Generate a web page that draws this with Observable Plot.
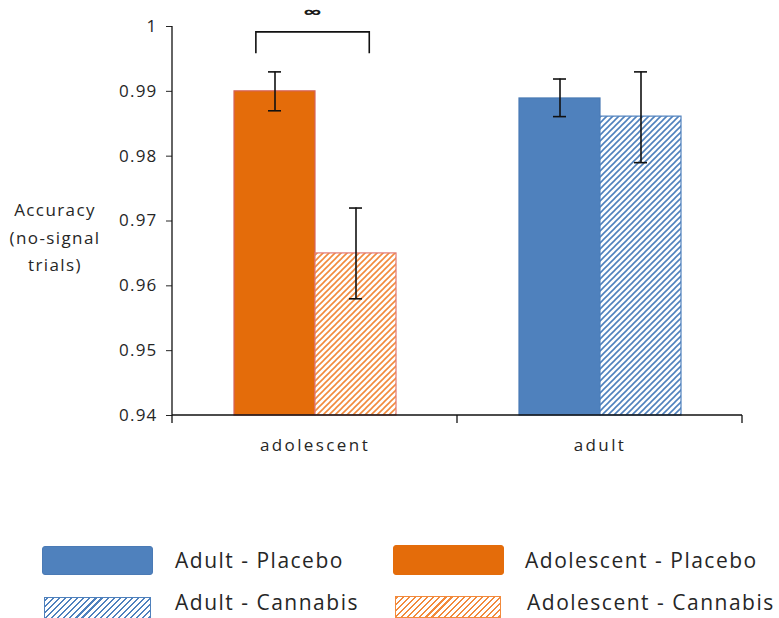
<!DOCTYPE html>
<html>
<head>
<meta charset="utf-8">
<script src="https://cdn.jsdelivr.net/npm/d3@7"></script>
<script src="https://cdn.jsdelivr.net/npm/@observablehq/plot@0.6"></script>
<style>
  body { margin: 0; background: #fff; font-family: "Open Sans", sans-serif; color: #262626; }
  #wrap { position: relative; width: 779px; height: 618px; overflow: hidden; }
  #ylabel { position: absolute; left: 0; width: 110px; top: 196px; text-align: center;
            font-size: 17px; line-height: 27.5px; letter-spacing: 1.4px; }
  .sw { position: absolute; box-sizing: border-box; border-radius: 3px; }
  .lt { position: absolute; font-size: 21px; letter-spacing: 1.5px; white-space: nowrap; }
</style>
</head>
<body>
<div id="wrap">
  <div id="chart"></div>
  <div id="ylabel">Accuracy<br>(no-signal<br>trials)</div>
  <div id="legend"></div>
</div>
<script>
// Age groups along the bottom, drug condition within each group
const groups = ["adolescent", "adult"];
const conditions = ["Placebo", "Cannabis"];

// Mean accuracy on no-signal trials, with error bar ends
const adolescentMean = [0.990, 0.965];
const adolescentLow  = [0.987, 0.958];
const adolescentHigh = [0.993, 0.972];
const adultMean = [0.9889, 0.9861];
const adultLow  = [0.9861, 0.979];
const adultHigh = [0.9919, 0.993];

const yTicks = [0.94, 0.95, 0.96, 0.97, 0.98, 0.99, 1];
const yBase = 0.94;

// Significance bracket between the adolescent bars
const bracketTop = 0.9991;
const bracketEnd = 0.9958;
const bracketLabel = "∞";

const rows = [];
groups.forEach(g => {
  const m = g === "adolescent" ? adolescentMean : adultMean;
  const lo = g === "adolescent" ? adolescentLow : adultLow;
  const hi = g === "adolescent" ? adolescentHigh : adultHigh;
  conditions.forEach((c, i) => rows.push({group: g, condition: c, mean: m[i], low: lo[i], high: hi[i]}));
});

// Fill and outline for each group/condition pair
const styles = [
  {group: "adolescent", condition: "Placebo",  fill: "#E46C0A", stroke: "#D5635C"},
  {group: "adolescent", condition: "Cannabis", fill: "url(#hatch-orange)", stroke: "#E27A72"},
  {group: "adult",      condition: "Placebo",  fill: "#4F81BD", stroke: "#4A7AB5"},
  {group: "adult",      condition: "Cannabis", fill: "url(#hatch-blue)", stroke: "#4F81BD"}
];

const chart = Plot.plot({
  width: 779,
  height: 460,
  marginLeft: 172,
  marginRight: 37,
  marginTop: 26,
  marginBottom: 45,
  style: {fontFamily: "Open Sans", fontSize: "17px", color: "#262626", background: "white", overflow: "visible"},
  facet: {data: rows, x: "group"},
  fx: {domain: groups, padding: 0, label: null, tickSize: 0, tickPadding: 23},
  x: {domain: conditions, paddingInner: 0, paddingOuter: 0.75, axis: null},
  y: {domain: [yBase, 1], ticks: yTicks, tickSize: 6, tickPadding: 9, label: null,
      tickFormat: d => d === 1 ? "1" : d.toFixed(2)},
  marks: [
    ...styles.map(s => Plot.barY(rows, {
      filter: r => r.group === s.group && r.condition === s.condition,
      x: "condition", y1: () => yBase, y2: "mean", fill: s.fill, stroke: s.stroke, strokeWidth: 1.2, inset: 0
    })),
    Plot.ruleX(rows, {x: "condition", y1: "low", y2: "high", stroke: "#111", strokeWidth: 1.6}),
    Plot.tickY(rows, {x: "condition", y: "low", stroke: "#111", strokeWidth: 1.6, insetLeft: 34, insetRight: 34}),
    Plot.tickY(rows, {x: "condition", y: "high", stroke: "#111", strokeWidth: 1.6, insetLeft: 34, insetRight: 34})
  ]
});

document.getElementById("chart").appendChild(chart);
const svgNode = chart.tagName.toLowerCase() === "svg" ? chart : chart.querySelector("svg");
const svg = d3.select(svgNode);

// Wider letter spacing on the axis labels
svg.selectAll("text").filter(function() { return groups.includes(this.textContent); })
  .style("letter-spacing", "2.4px");
svg.selectAll("text").filter(function() { return /^[01](\.\d+)?$/.test(this.textContent); })
  .style("letter-spacing", "1.2px");

// Diagonal "/" hatch patterns for the cannabis bars
const defs = svg.insert("defs", ":first-child");
[["hatch-orange", "#F28A3C"], ["hatch-blue", "#4F81BD"]].forEach(([id, color]) => {
  const p = defs.append("pattern").attr("id", id).attr("patternUnits", "userSpaceOnUse")
    .attr("width", 6).attr("height", 6);
  p.append("rect").attr("width", 6).attr("height", 6).attr("fill", "white");
  p.append("path").attr("d", "M-1,7L7,-1M-1,1L1,-1M5,7L7,5")
    .attr("stroke", color).attr("stroke-width", 1.6).attr("fill", "none");
});

// Axis frame: y axis line, baseline and group separators
const fx = chart.scale("fx");
const xs = chart.scale("x");
const y = chart.scale("y");
const left = fx.apply(groups[0]);
const right = fx.apply(groups[groups.length - 1]) + fx.bandwidth;
const y0 = y.apply(yBase);
const frame = svg.append("g").attr("stroke", "#111").attr("stroke-width", 1.3).attr("fill", "none");
frame.append("line").attr("x1", left).attr("x2", left).attr("y1", y.apply(1)).attr("y2", y0 + 8);
frame.append("line").attr("x1", left).attr("x2", right).attr("y1", y0).attr("y2", y0);
groups.slice(1).concat([null]).forEach(g => {
  const px = g === null ? right : fx.apply(g);
  frame.append("line").attr("x1", px).attr("x2", px).attr("y1", y0).attr("y2", y0 + 8);
});

// Bracket over the adolescent bars
const x0 = Array.isArray(xs.range) ? xs.range[0] : 0;
const gx = fx.apply("adolescent");
const xL = gx + xs.apply("Placebo") - x0 + xs.bandwidth * 0.27;
const xR = gx + xs.apply("Cannabis") - x0 + xs.bandwidth * 0.67;
svg.append("path")
  .attr("d", `M${xL},${y.apply(bracketEnd)}V${y.apply(bracketTop)}H${xR}V${y.apply(bracketEnd)}`)
  .attr("fill", "none").attr("stroke", "#111").attr("stroke-width", 1.6);
const cx = (xL + xR) / 2, cy = y.apply(1.002);
svg.append("text")
  .attr("transform", `translate(${cx},${cy}) scale(1.6,1)`)
  .attr("text-anchor", "middle").attr("dy", "0.32em")
  .attr("font-size", 16).attr("fill", "#111").attr("stroke", "#111").attr("stroke-width", 0.5)
  .text(bracketLabel);

// Legend below the chart
const legendItems = [
  {label: "Adult - Placebo", left: 42, top: 546, w: 111, h: 29, tx: 175, ty: 546, bg: "#4F81BD", border: "#4A7AB5"},
  {label: "Adult - Cannabis", left: 44, top: 597, w: 107, h: 22, tx: 175, ty: 588, hatch: "#4F81BD"},
  {label: "Adolescent - Placebo", left: 393, top: 545, w: 111, h: 30, tx: 525, ty: 546, bg: "#E46C0A", border: "#E46C0A"},
  {label: "Adolescent - Cannabis", left: 395, top: 596, w: 106, h: 22, tx: 527, ty: 588, hatch: "#F28A3C"}
];
const legend = d3.select("#legend");
legendItems.forEach(d => {
  const sw = legend.append("div").attr("class", "sw")
    .style("left", d.left + "px").style("top", d.top + "px")
    .style("width", d.w + "px").style("height", d.h + "px");
  if (d.hatch) {
    sw.style("border", `1.5px solid ${d.hatch}`).style("border-radius", "0")
      .style("background", `repeating-linear-gradient(-45deg, ${d.hatch} 0 1.5px, white 1.5px 4.3px)`);
  } else {
    sw.style("background", d.bg).style("border", `1px solid ${d.border}`);
  }
  legend.append("div").attr("class", "lt")
    .style("left", d.tx + "px").style("top", d.ty + "px").text(d.label);
});
</script>
</body>
</html>
